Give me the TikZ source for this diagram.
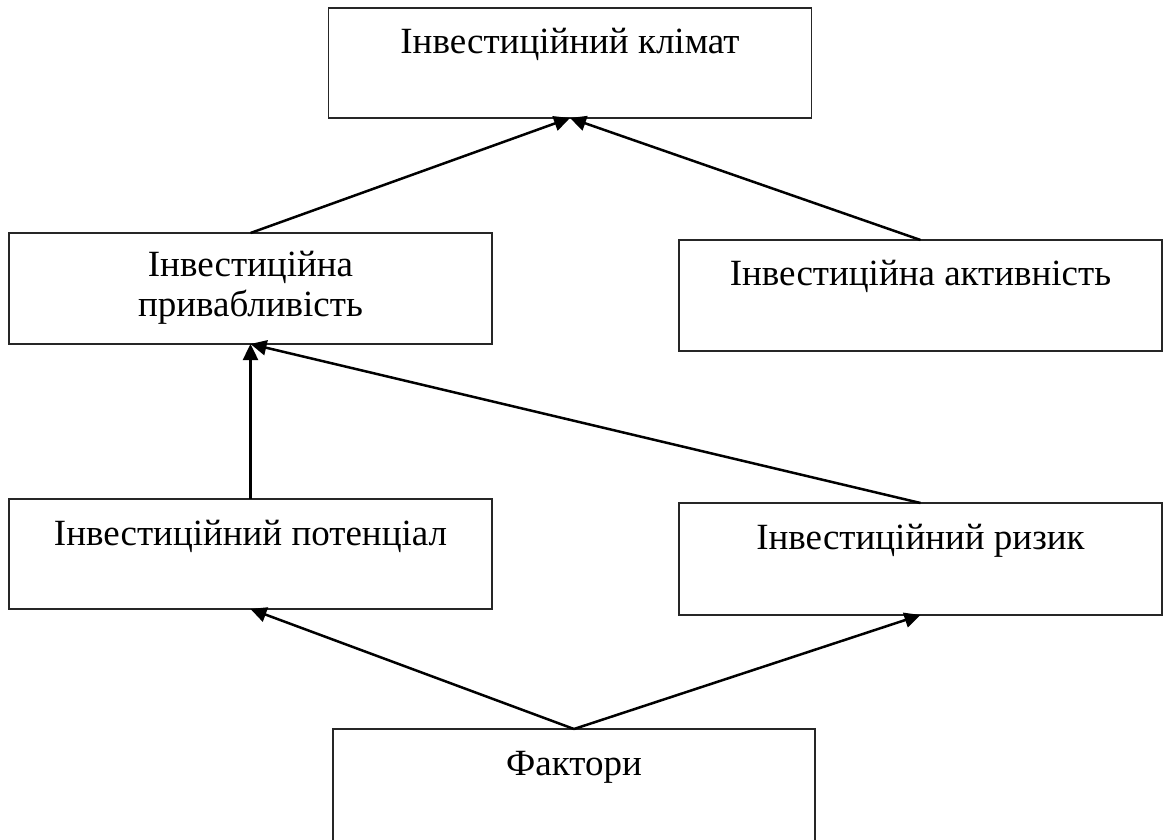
\documentclass[tikz,border=0pt]{standalone}
\usepackage{fontspec}
\setmainfont{Liberation Serif}
\usetikzlibrary{arrows.meta,calc}
\begin{document}
\begin{tikzpicture}[x=1pt,y=-1pt,
  box/.style={draw=black!85, line width=1.2pt, minimum width=483pt, minimum height=111pt, inner sep=0pt, outer sep=0pt},
  boxtext/.style={anchor=base, align=center, inner sep=0pt, font=\fontsize{37}{39.5}\selectfont},
  link/.style={line width=2.5pt, -{Triangle[length=16pt,width=15pt]}}]
  \useasboundingbox (0,0) rectangle (1166,839);
  % boxes
  \node[box, minimum height=110pt] (klimat)     at (570,63)    {};
  \node[box]                       (pryvab)     at (250.5,288.5) {};
  \node[box]                       (aktyv)      at (920.5,295.5) {};
  \node[box, minimum height=110pt] (potent)     at (250.5,554) {};
  \node[box, minimum height=112pt] (ryzyk)      at (920.5,559) {};
  \node[box, minimum width=482pt, minimum height=113pt] (faktory) at (574,785.5) {};
  % labels (a two-line label sits on the baseline of its last line)
  \node[boxtext] (tklimat) at ($(klimat.north)+(0,45)$) {Інвестиційний клімат};
  \node[boxtext] (tpryvab) at ($(pryvab.north)+(0,83)$) {Інвестиційна\\привабливість};
  \node[boxtext] (taktyv)  at ($(aktyv.north)+(0,45)$)  {Інвестиційна активність};
  \node[boxtext] (tpotent) at ($(potent.north)+(0,46)$) {Інвестиційний потенціал};
  \node[boxtext] (tryzyk)  at ($(ryzyk.north)+(0,46)$)  {Інвестиційний ризик};
  \node[boxtext] (tfakt)   at ($(faktory.north)+(0,46)$) {Фактори};
  % connectors
  \draw[link] (pryvab.north) -- (klimat.south);
  \draw[link] (aktyv.north) -- (klimat.south);
  \draw[link] (potent.north) -- (pryvab.south);
  \draw[link] (ryzyk.north) -- (pryvab.south);
  \draw[link] (faktory.north) -- (potent.south);
  \draw[link] (faktory.north) -- (ryzyk.south);
\end{tikzpicture}
\end{document}
